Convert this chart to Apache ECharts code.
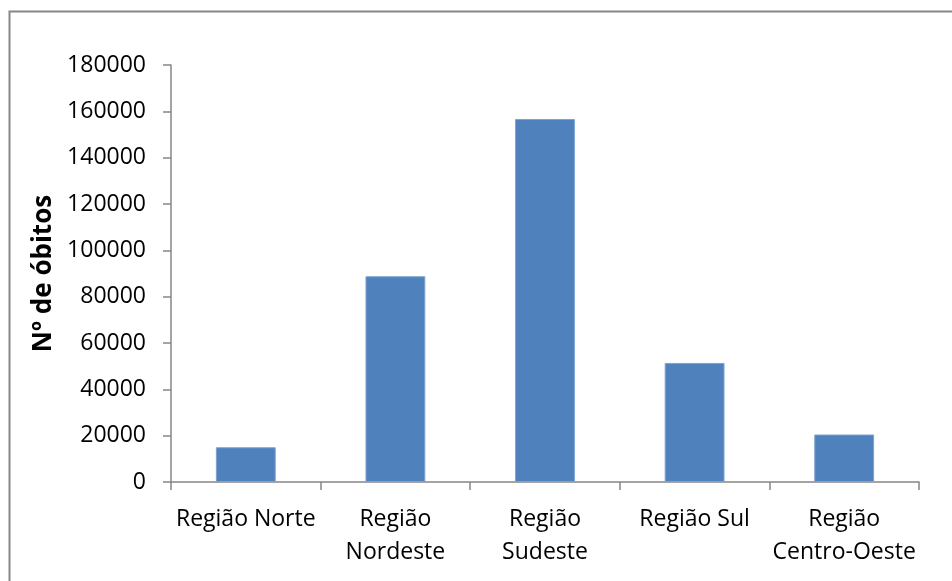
<!DOCTYPE html>
<html>
<head>
<meta charset="utf-8">
<script src="https://cdn.jsdelivr.net/npm/echarts@6/dist/echarts.min.js"></script>
<style>
html,body{margin:0;padding:0;background:#fff;}
#chart{width:952px;height:581px;}
</style>
</head>
<body>
<div id="chart"></div>
<script>
const categories = ['Região Norte', 'Região\nNordeste', 'Região\nSudeste', 'Região Sul', 'Região\nCentro-Oeste'];
const obitos = [15000, 88800, 156700, 51400, 20500];
const yTicks = [0, 20000, 40000, 60000, 80000, 100000, 120000, 140000, 160000, 180000];
const yTitle = 'Nº de óbitos';

const chart = echarts.init(document.getElementById('chart'));
const fontFam = '"Open Sans", "Liberation Sans", sans-serif';
chart.setOption({
  animation: false,
  backgroundColor: '#ffffff',
  graphic: [{
    type: 'polyline',
    shape: { points: [[9.5, 1000], [9.5, 11.5], [1000, 11.5]] },
    style: { stroke: '#878787', lineWidth: 2, fill: null }
  }],
  grid: { left: 171, right: 33, top: 65, bottom: 99 },
  xAxis: {
    type: 'category',
    data: categories,
    axisLine: { lineStyle: { color: '#868686', width: 1.5 } },
    axisTick: { show: true, length: 8, lineStyle: { color: '#868686', width: 1.5 } },
    axisLabel: { color: '#000', fontSize: 23, fontFamily: fontFam, margin: 21, lineHeight: 33, interval: 0 }
  },
  yAxis: {
    type: 'value',
    min: yTicks[0],
    max: yTicks[yTicks.length - 1],
    interval: yTicks[1] - yTicks[0],
    name: yTitle,
    nameLocation: 'middle',
    nameGap: 108,
    nameTextStyle: { color: '#000', fontSize: 26, fontWeight: 'bold', fontFamily: fontFam },
    axisLine: { show: true, lineStyle: { color: '#868686', width: 1.5 } },
    axisTick: { show: true, length: 8, lineStyle: { color: '#868686', width: 1.5 } },
    splitLine: { show: false },
    axisLabel: { color: '#000', fontSize: 23, fontFamily: fontFam, margin: 25, formatter: v => String(v) }
  },
  series: [{
    type: 'bar',
    data: obitos,
    barWidth: '40%',
    itemStyle: { color: '#4F81BD', borderColor: '#7DA2D0', borderWidth: 1 }
  }]
});
</script>
</body>
</html>
